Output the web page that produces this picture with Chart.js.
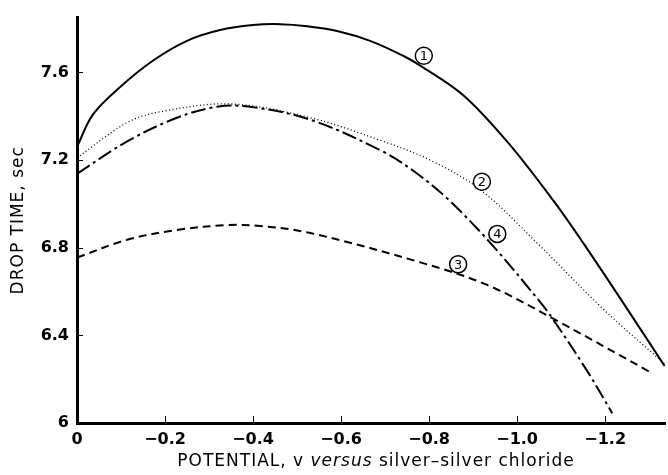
<!DOCTYPE html>
<html>
<head>
<meta charset="utf-8">
<script src="https://cdn.jsdelivr.net/npm/chart.js@4"></script>
<style>
  html, body { margin: 0; padding: 0; background: #fff; }
  #wrap { width: 668px; height: 475px; }
</style>
</head>
<body>
<div id="wrap"><canvas id="dropChart" width="668" height="475"></canvas></div>
<script>
// tick labels
const xTicks = [0, -0.2, -0.4, -0.6, -0.8, -1.0, -1.2];
const yTicks = [6, 6.4, 6.8, 7.2, 7.6];

// curve 1 (solid)
const pot1 = [0, -0.036, -0.098, -0.173, -0.25, -0.325, -0.4, -0.461, -0.523, -0.591, -0.666, -0.741, -0.78, -0.877, -0.977, -1.082, -1.15, -1.25, -1.335];
const time1 = [7.26, 7.407, 7.533, 7.654, 7.744, 7.793, 7.816, 7.82, 7.811, 7.789, 7.744, 7.676, 7.631, 7.497, 7.285, 7.016, 6.822, 6.521, 6.26];

// curve 2 (dotted)
const pot2 = [0, -0.114, -0.189, -0.348, -0.53, -0.689, -0.802, -0.916, -1.045, -1.195, -1.335];
const time2 = [7.21, 7.371, 7.42, 7.456, 7.393, 7.29, 7.2, 7.065, 6.822, 6.521, 6.27];

// curve 3 (dashed)
const pot3 = [0, -0.114, -0.227, -0.341, -0.416, -0.53, -0.78, -0.932, -1.082, -1.309];
const time3 = [6.755, 6.836, 6.881, 6.903, 6.899, 6.867, 6.733, 6.63, 6.476, 6.225];

// curve 4 (dash-dot)
const pot4 = [0, -0.114, -0.227, -0.318, -0.393, -0.53, -0.689, -0.764, -0.841, -0.939, -1.052, -1.082, -1.159, -1.216];
const time4 = [7.137, 7.285, 7.393, 7.443, 7.443, 7.384, 7.245, 7.151, 7.025, 6.822, 6.553, 6.472, 6.238, 6.045];

// circled curve numbers
const tagText = ['1', '2', '3', '4'];
const tagPot = [-0.788, -0.92, -0.866, -0.955];
const tagTime = [7.676, 7.101, 6.724, 6.863];

const FONT = '"DejaVu Sans", Verdana, sans-serif';

function pts(xs, ys) {
  return xs.map((x, i) => ({ x: x, y: ys[i] }));
}

function fmtTick(v) {
  if (Math.abs(v) < 1e-9) return '0';
  const s = Math.abs(v).toFixed(1);
  return v < 0 ? '\u2212' + s : s;
}

function drawParts(ctx, parts, x, y, size) {
  parts.forEach(p => {
    ctx.font = p[1] + ' ' + size + 'px ' + FONT;
    ctx.fillText(p[0], x, y);
    x += ctx.measureText(p[0]).width;
  });
}

function partsWidth(ctx, parts, size) {
  let w = 0;
  parts.forEach(p => {
    ctx.font = p[1] + ' ' + size + 'px ' + FONT;
    w += ctx.measureText(p[0]).width;
  });
  return w;
}

const decor = {
  id: 'decor',
  afterDraw(chart) {
    const ctx = chart.ctx;
    const xs = chart.scales.x, ys = chart.scales.y;
    const area = chart.chartArea;
    ctx.save();
    ctx.strokeStyle = '#000';
    ctx.lineWidth = 1;
    // inward tick marks
    yTicks.forEach(v => {
      if (v === yTicks[0]) return;
      const py = Math.round(ys.getPixelForValue(v)) + 0.5;
      ctx.beginPath();
      ctx.moveTo(area.left, py);
      ctx.lineTo(area.left + 6, py);
      ctx.stroke();
    });
    xTicks.forEach(v => {
      if (v === 0) return;
      const px = Math.round(xs.getPixelForValue(v)) + 0.5;
      ctx.beginPath();
      ctx.moveTo(px, area.bottom);
      ctx.lineTo(px, area.bottom - 7);
      ctx.stroke();
    });

    // circled labels
    tagText.forEach((t, i) => {
      const cx = xs.getPixelForValue(tagPot[i]);
      const cy = ys.getPixelForValue(tagTime[i]);
      ctx.fillStyle = '#fff';
      ctx.beginPath();
      ctx.arc(cx, cy, 8.5, 0, Math.PI * 2);
      ctx.fill();
      ctx.lineWidth = 1.5;
      ctx.stroke();
      ctx.fillStyle = '#000';
      ctx.font = '13px ' + FONT;
      ctx.textAlign = 'center';
      ctx.textBaseline = 'middle';
      ctx.fillText(t, cx, cy + 1);
    });

    ctx.fillStyle = '#000';
    ctx.textBaseline = 'alphabetic';
    ctx.textAlign = 'left';
    ctx.letterSpacing = '1px';

    // x axis title with italic "versus"
    const xParts = [
      ['POTENTIAL, v ', 'normal'],
      ['versus', 'italic'],
      [' silver\u2013silver chloride', 'normal']
    ];
    const xw = partsWidth(ctx, xParts, 17);
    drawParts(ctx, xParts, (area.left + area.right) / 2 - xw / 2 + 5, 466, 17);

    // y axis title
    const yParts = [['DROP TIME, sec', 'normal']];
    const yw = partsWidth(ctx, yParts, 17);
    ctx.translate(23, (area.top + area.bottom) / 2 + yw / 2);
    ctx.rotate(-Math.PI / 2);
    drawParts(ctx, yParts, 0, 0, 17);
    ctx.restore();
  }
};

const lineBase = {
  borderColor: '#000',
  backgroundColor: '#000',
  pointRadius: 0,
  fill: false,
  tension: 0.35
};

new Chart(document.getElementById('dropChart').getContext('2d'), {
  type: 'line',
  data: {
    datasets: [
      Object.assign({ label: '1', data: pts(pot1, time1), borderWidth: 2 }, lineBase),
      Object.assign({ label: '2', data: pts(pot2, time2), borderWidth: 1.3, borderDash: [1, 2.5] }, lineBase),
      Object.assign({ label: '3', data: pts(pot3, time3), borderWidth: 2, borderDash: [8, 5] }, lineBase),
      Object.assign({ label: '4', data: pts(pot4, time4), borderWidth: 2, borderDash: [15, 4, 3, 4] }, lineBase)
    ]
  },
  options: {
    responsive: false,
    animation: false,
    layout: { padding: { left: 0, right: 3, top: 12, bottom: 0 } },
    plugins: {
      legend: { display: false },
      tooltip: { enabled: false }
    },
    scales: {
      x: {
        type: 'linear',
        min: -1.336,
        max: 0,
        reverse: true,
        afterBuildTicks: s => { s.ticks = xTicks.map(v => ({ value: v })); },
        afterFit: s => { s.height = 52; },
        ticks: {
          callback: v => fmtTick(v),
          color: '#000',
          padding: 7,
          maxRotation: 0,
          font: { family: FONT, size: 16, weight: 'bold' }
        },
        grid: { display: true, drawOnChartArea: false, drawTicks: false },
        border: { color: '#000', width: 3 }
      },
      y: {
        type: 'linear',
        min: 6,
        max: 7.85,
        afterBuildTicks: s => { s.ticks = yTicks.map(v => ({ value: v })); },
        afterFit: s => { s.width = 77; },
        ticks: {
          callback: v => (Math.abs(v - 6) < 1e-9 ? '6' : v.toFixed(1)),
          color: '#000',
          padding: 8,
          font: { family: FONT, size: 16, weight: 'bold' }
        },
        grid: { display: true, drawOnChartArea: false, drawTicks: false },
        border: { color: '#000', width: 3 }
      }
    }
  },
  plugins: [decor]
});
</script>
</body>
</html>
